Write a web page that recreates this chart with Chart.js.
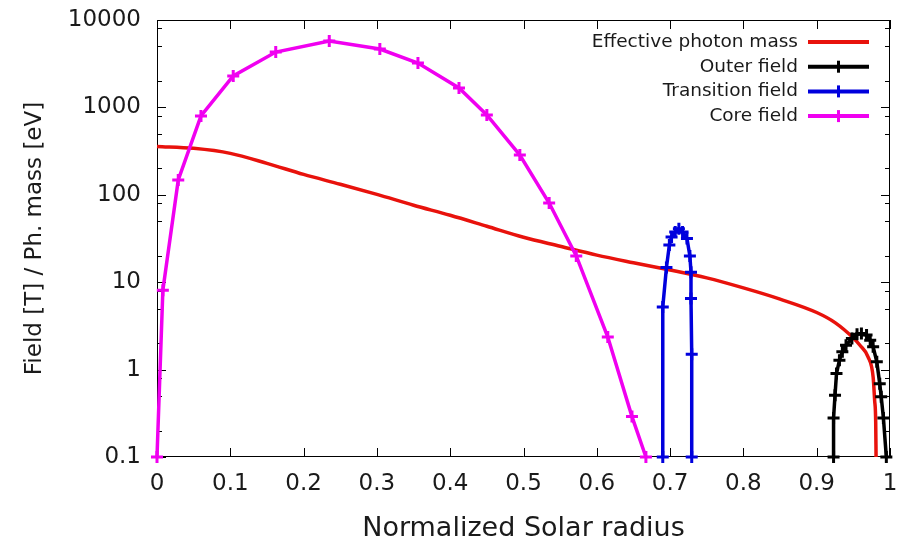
<!DOCTYPE html>
<html>
<head>
<meta charset="utf-8">
<script src="https://cdn.jsdelivr.net/npm/chart.js@4.4.1/dist/chart.umd.min.js"></script>
<style>
  body { margin: 0; background: #fff; }
  #wrap { width: 905px; height: 545px; }
</style>
</head>
<body>
<div id="wrap"><canvas id="fieldChart"></canvas></div>
<script>
// Effective photon mass (smooth curve)
const massX = [0, 0.05, 0.1, 0.15, 0.2, 0.25, 0.3, 0.35, 0.4, 0.45, 0.5, 0.55, 0.6, 0.65, 0.7, 0.75, 0.8, 0.85, 0.9, 0.925, 0.95, 0.959, 0.97, 0.977, 0.979, 0.9805, 0.981];
const massY = [358, 340, 298, 229, 171, 132, 101, 76, 58.3, 43.7, 32.7, 25.8, 20.4, 16.7, 13.8, 11.2, 8.6, 6.4, 4.5, 3.45, 2.3, 1.9, 1.4, 0.82, 0.45, 0.25, 0.1];

// Outer field
const outerX = [0.923, 0.923, 0.925, 0.927, 0.931, 0.935, 0.940, 0.948, 0.955, 0.961, 0.968, 0.973, 0.977, 0.982, 0.986, 0.988, 0.991, 0.995];
const outerY = [0.1, 0.28, 0.51, 0.9, 1.28, 1.6, 1.9, 2.27, 2.54, 2.58, 2.48, 2.17, 1.82, 1.23, 0.69, 0.49, 0.28, 0.1];

// Transition field
const transX = [0.690, 0.690, 0.695, 0.699, 0.702, 0.707, 0.712, 0.717, 0.723, 0.727, 0.7285, 0.7285, 0.7295, 0.7295];
const transY = [0.1, 5.2, 14.7, 26.6, 33, 37.6, 41, 37.6, 31.6, 20, 13, 6.5, 1.5, 0.1];

// Core field
const coreX = [0, 0.008, 0.029, 0.06, 0.104, 0.162, 0.235, 0.304, 0.356, 0.412, 0.45, 0.495, 0.535, 0.572, 0.615, 0.648, 0.667];
const coreY = [0.1, 8.1, 148, 798, 2290, 4300, 5750, 4660, 3220, 1670, 819, 285, 80.6, 20, 2.36, 0.29, 0.1];

// axis ticks
const yTicks = [0.1, 0.2, 0.5, 0.8, 1, 2, 5, 8, 10, 20, 50, 80, 100, 200, 500, 800, 1000, 2000, 5000, 8000, 10000];

const FONT = "'DejaVu Sans', sans-serif";
const pts = (xs, ys) => xs.map((x, i) => ({ x: x, y: ys[i] }));
const isDecade = v => Math.abs(Math.log10(v) - Math.round(Math.log10(v))) < 1e-9;

// frame with inward ticks on all four sides
const framePlugin = {
  id: "frame",
  beforeDatasetsDraw(chart) {
    const { ctx, chartArea: a, scales } = chart;
    ctx.save();
    ctx.strokeStyle = "#000";
    ctx.lineWidth = 1;
    ctx.beginPath();
    ctx.rect(a.left + 0.5, a.top + 0.5, a.right - a.left - 1, a.bottom - a.top - 1);
    scales.x.ticks.forEach(t => {
      const px = Math.round(scales.x.getPixelForValue(t.value)) + 0.5;
      ctx.moveTo(px, a.bottom); ctx.lineTo(px, a.bottom - 9);
      ctx.moveTo(px, a.top); ctx.lineTo(px, a.top + 9);
    });
    scales.y.ticks.forEach(t => {
      const py = Math.round(scales.y.getPixelForValue(t.value)) + 0.5;
      const len = isDecade(t.value) ? 9 : 5;
      ctx.moveTo(a.left, py); ctx.lineTo(a.left + len, py);
      ctx.moveTo(a.right, py); ctx.lineTo(a.right - len, py);
    });
    ctx.stroke();
    ctx.restore();
  }
};

// gnuplot style key: text on the left, line sample on the right
const keyPlugin = {
  id: "key",
  afterDraw(chart) {
    const { ctx, chartArea: a } = chart;
    const textRight = a.right - 92, x0 = a.right - 82, x1 = a.right - 21;
    ctx.save();
    ctx.font = "18.5px " + FONT;
    ctx.textAlign = "right";
    ctx.textBaseline = "middle";
    chart.data.datasets.forEach((ds, i) => {
      const y = a.top + 22 + i * 24.7;
      ctx.fillStyle = "#1a1a1a";
      ctx.fillText(ds.label, textRight, y);
      ctx.strokeStyle = ds.borderColor;
      ctx.lineWidth = 4;
      ctx.beginPath();
      ctx.moveTo(x0, y); ctx.lineTo(x1, y);
      ctx.stroke();
      if (ds.pointRadius > 0) {
        const cx = (x0 + x1) / 2, r = ds.pointRadius;
        ctx.lineWidth = ds.pointBorderWidth;
        ctx.beginPath();
        ctx.moveTo(cx, y - r); ctx.lineTo(cx, y + r);
        ctx.stroke();
      }
    });
    ctx.restore();
  }
};

const series = (label, xs, ys, color, extra) => Object.assign({
  label: label,
  data: pts(xs, ys),
  borderColor: color,
  backgroundColor: color,
  borderWidth: 3.5,
  pointStyle: "cross",
  pointRadius: 6,
  pointBorderWidth: 3,
  pointBorderColor: color,
  tension: 0,
  clip: false,
}, extra);

new Chart(document.getElementById("fieldChart"), {
  type: "line",
  data: {
    datasets: [
      series("Effective photon mass", massX, massY, "#e8120c", { pointRadius: 0, cubicInterpolationMode: "monotone", order: 4 }),
      series("Outer field", outerX, outerY, "#000000", { order: 3 }),
      series("Transition field", transX, transY, "#0000dd", { order: 2 }),
      series("Core field", coreX, coreY, "#f000f0", { order: 1 }),
    ],
  },
  options: {
    responsive: true,
    maintainAspectRatio: false,
    animation: false,
    devicePixelRatio: 1,
    layout: { padding: { top: 20, right: 15, left: 0, bottom: 0 } },
    scales: {
      x: {
        type: "linear",
        min: 0,
        max: 1,
        grid: { display: false, drawTicks: false },
        border: { display: false },
        ticks: {
          stepSize: 0.1,
          padding: 13,
          color: "#1a1a1a",
          font: { family: FONT, size: 23 },
          maxRotation: 0,
          callback: v => String(Math.round(v * 10) / 10),
        },
        title: {
          display: true,
          text: "Normalized Solar radius",
          color: "#1a1a1a",
          font: { family: FONT, size: 27 },
          padding: { top: 0, bottom: 0 },
        },
        afterFit: s => { s.height = 88; s.paddingLeft = 0; s.paddingRight = 0; },
      },
      y: {
        type: "logarithmic",
        min: 0.1,
        max: 10000,
        grid: { display: false, drawTicks: false },
        border: { display: false },
        afterBuildTicks: s => { s.ticks = yTicks.map(v => ({ value: v })); },
        ticks: {
          autoSkip: false,
          padding: 16,
          color: "#1a1a1a",
          font: { family: FONT, size: 23 },
          callback: v => isDecade(v) ? String(v) : "",
        },
        title: {
          display: true,
          text: "Field [T] / Ph. mass [eV]",
          color: "#1a1a1a",
          font: { family: FONT, size: 23 },
          padding: { top: 21, bottom: 0 },
        },
        afterFit: s => { s.width = 157; s.paddingTop = 0; s.paddingBottom = 0; },
      },
    },
    plugins: {
      legend: { display: false },
      tooltip: { enabled: false },
    },
  },
  plugins: [framePlugin, keyPlugin],
});
</script>
</body>
</html>
